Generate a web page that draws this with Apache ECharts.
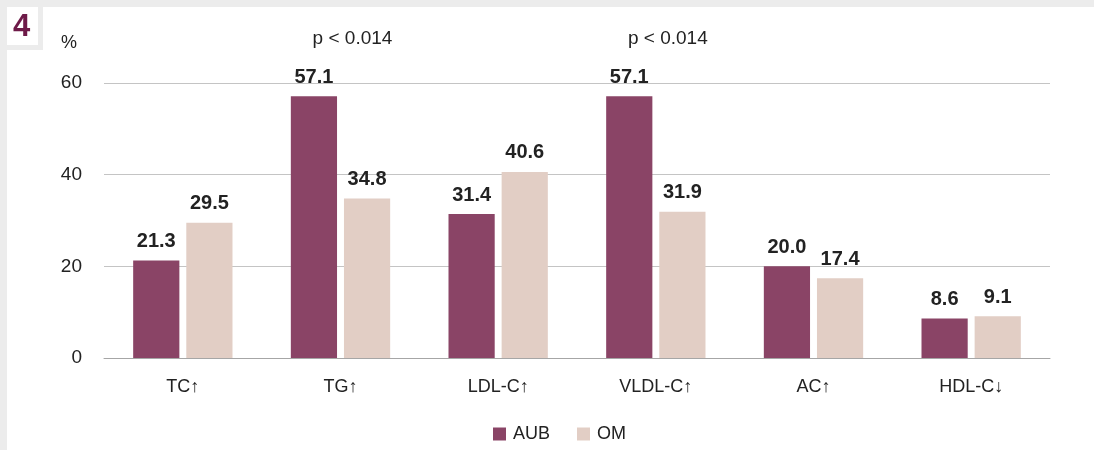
<!DOCTYPE html>
<html><head><meta charset="utf-8">
<script src="https://cdn.jsdelivr.net/npm/echarts@6/dist/echarts.min.js"></script>
<style>html,body{margin:0;padding:0;background:#ececec;}#c{width:1094px;height:450px;}</style>
</head><body><div id="c"></div>
<script>
const categories = ['TC↑', 'TG↑', 'LDL-C↑', 'VLDL-C↑', 'AC↑', 'HDL-C↓'];
const aubValues = [21.3, 57.1, 31.4, 57.1, 20.0, 8.6];
const omValues = [29.5, 34.8, 40.6, 31.9, 17.4, 9.1];
const pLabels = ['', 'p < 0.014', '', 'p < 0.014', '', ''];
const yTicks = [0, 20, 40, 60];

const chart = echarts.init(document.getElementById('c'));
const font = 'Liberation Sans, Arial, sans-serif';
chart.setOption({
  backgroundColor: '#ececec',
  animation: false,
  graphic: [
    {type: 'rect', z: -10, shape: {x: 7, y: 7, width: 31, height: 38}, style: {fill: '#fff'}},
    {type: 'rect', z: -10, shape: {x: 43, y: 7, width: 1051, height: 443}, style: {fill: '#fff'}},
    {type: 'rect', z: -10, shape: {x: 7, y: 50, width: 40, height: 400}, style: {fill: '#fff'}},
    {type: 'text', z: 10, left: 13, top: 12, style: {text: '4', fill: '#6e1a48', font: 'bold 31px ' + font}}
  ],
  grid: {left: 104, right: 44, top: 83, bottom: 92},
  legend: {
    top: 420, left: 488, itemWidth: 13, itemHeight: 13, itemGap: 27,
    icon: 'rect',
    textStyle: {fontSize: 18, color: '#222', fontFamily: font, padding: [0, 0, 0, 2]}
  },
  xAxis: [{
    type: 'category', data: categories,
    axisLine: {lineStyle: {color: '#a6a6a6'}}, axisTick: {show: false},
    axisLabel: {fontSize: 18, color: '#222', margin: 20, fontFamily: font}
  }, {
    type: 'category', data: pLabels, position: 'top',
    axisLine: {show: false}, axisTick: {show: false},
    axisLabel: {fontSize: 19, color: '#222', margin: 35, fontFamily: font, interval: 0,
      padding: [0, 0, 0, 24], formatter: v => v}
  }],
  yAxis: {
    type: 'value', min: 0, max: 60, interval: 20,
    name: '%', nameLocation: 'end', nameGap: 31,
    nameTextStyle: {fontSize: 18, color: '#222', fontFamily: font, align: 'right', padding: [0, 27, 0, 0]},
    axisLine: {show: false}, axisTick: {show: false},
    axisLabel: {fontSize: 19, color: '#222', margin: 22, fontFamily: font,
      formatter: v => yTicks.includes(v) ? String(v) : ''},
    splitLine: {lineStyle: {color: '#c4c4c4'}}
  },
  series: [{
    name: 'AUB', type: 'bar', data: aubValues, barGap: '15%', barCategoryGap: '37%',
    itemStyle: {color: '#8a4466'},
    label: {show: true, position: 'top', distance: 9, formatter: p => p.value.toFixed(1),
      fontSize: 20, fontWeight: 'bold', color: '#222', fontFamily: font}
  }, {
    name: 'OM', type: 'bar', data: omValues,
    itemStyle: {color: '#e2cec5'},
    label: {show: true, position: 'top', distance: 9, formatter: p => p.value.toFixed(1),
      fontSize: 20, fontWeight: 'bold', color: '#222', fontFamily: font}
  }]
});
</script></body></html>
